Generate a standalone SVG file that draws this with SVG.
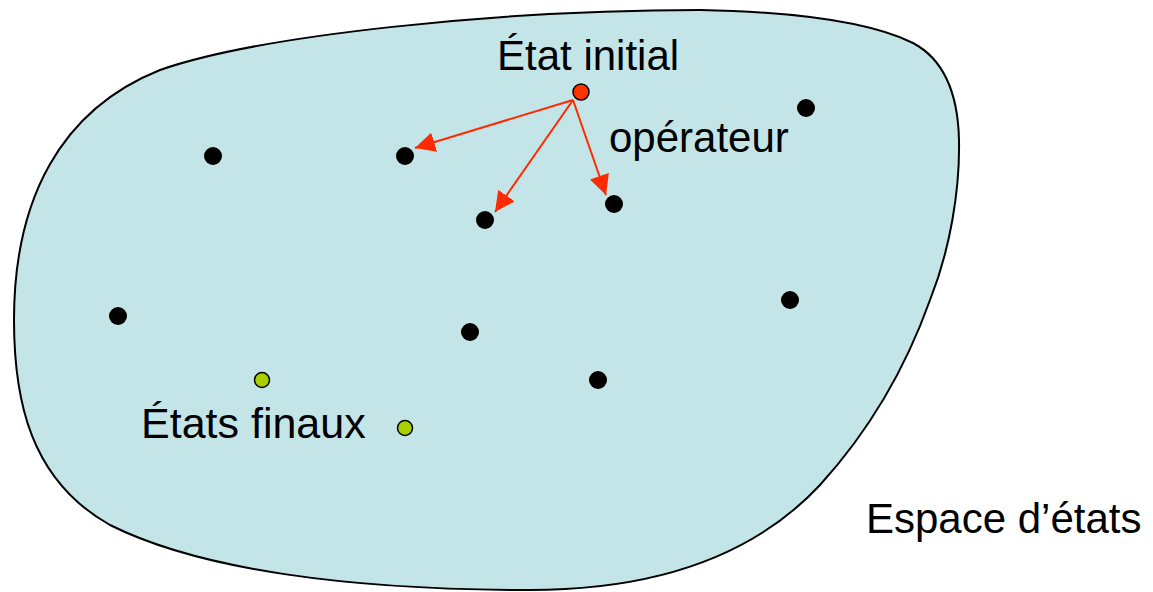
<svg xmlns="http://www.w3.org/2000/svg" width="1153" height="592" viewBox="0 0 1153 592">
<style>
.lbl{font-family:"Liberation Sans",Arial,sans-serif;font-size:42px;fill:#000}
.dot{fill:#000}
.fin{fill:#a8cf00;stroke:#000;stroke-width:1.5}
.ini{fill:#ff3300;stroke:#000;stroke-width:1.5}
.arr{stroke:#ff2a00;stroke-width:2;fill:none;marker-end:url(#a2)}
</style>
<defs>
<marker id="a2" viewBox="0 0 20 20" refX="20" refY="10" markerWidth="20" markerHeight="20" orient="auto" markerUnits="userSpaceOnUse">
<path d="M0,0 L20,10 L0,20 Z" fill="#ff2a00"/>
</marker>
</defs>
<g id="space">
<path d="M14,320 C14,200 60,110 160,70 C260,35 500,10 700,10 C800,12 870,22 913,43 C945,60 958,95 959,140 C960,190 950,250 930,300 C905,370 870,430 820,485 C750,560 650,590 530,590 C350,590 200,570 110,525 C30,480 14,400 14,320 Z" fill="#c4e5e8" stroke="#000" stroke-width="2"/>
</g>
<g id="connectors">
<line class="arr" x1="573" y1="100" x2="415" y2="148"/>
<line class="arr" x1="573" y1="100" x2="495" y2="212"/>
<line class="arr" x1="573" y1="100" x2="606" y2="195"/>
</g>
<g id="initial"><circle class="ini" cx="581" cy="92" r="8"/></g>
<g id="s1"><circle class="dot" cx="213" cy="156" r="9"/></g>
<g id="s2"><circle class="dot" cx="405" cy="156" r="9"/></g>
<g id="s3"><circle class="dot" cx="485" cy="220" r="9"/></g>
<g id="s4"><circle class="dot" cx="614" cy="204" r="9"/></g>
<g id="s5"><circle class="dot" cx="806" cy="108" r="9"/></g>
<g id="s6"><circle class="dot" cx="118" cy="316" r="9"/></g>
<g id="s7"><circle class="dot" cx="470" cy="332" r="9"/></g>
<g id="s8"><circle class="dot" cx="790" cy="300" r="9"/></g>
<g id="s9"><circle class="dot" cx="598" cy="380" r="9"/></g>
<g id="f1"><circle class="fin" cx="262" cy="380" r="7.5"/></g>
<g id="f2"><circle class="fin" cx="405" cy="428" r="7.5"/></g>
<g id="labels">
<text class="lbl" x="497" y="70">État initial</text>
<text class="lbl" x="609" y="152">opérateur</text>
<text class="lbl" x="141" y="438" style="font-size:43px">États finaux</text>
<text class="lbl" x="866" y="533">Espace d’états</text>
</g>
</svg>
